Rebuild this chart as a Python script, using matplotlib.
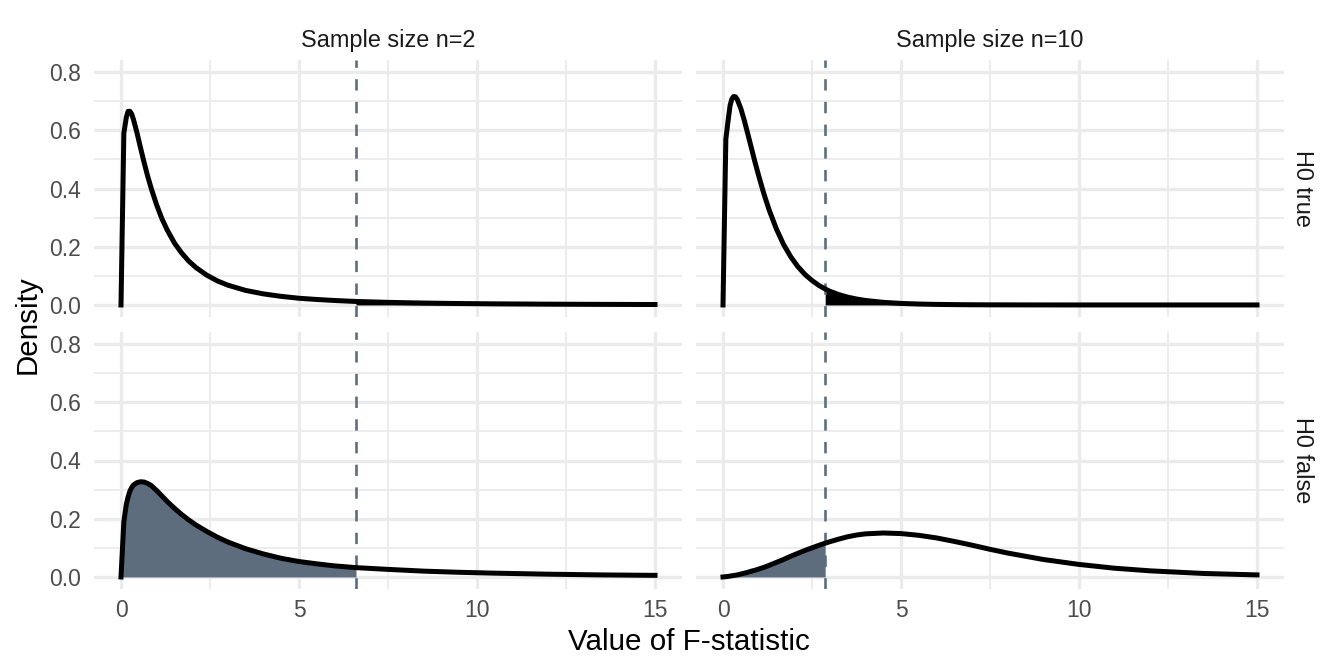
import matplotlib.pyplot as plt
import numpy as np

plt.rcParams['font.family'] = ['Liberation Sans', 'DejaVu Sans']

# data
x_left = [0, 0.08, 0.15, 0.2, 0.25, 0.3, 0.35, 0.45, 0.55, 0.65, 0.75, 0.85, 1.0, 1.15,
          1.3, 1.5, 1.7, 1.9, 2.1, 2.4, 2.7, 3.0, 3.5, 4.0, 4.5, 5.0, 5.5, 6.0, 6.6, 7.5,
          8.5, 9.5, 10.5, 12.0, 13.5, 15.0]
dens_n2_h0true = [0, 0.59, 0.645, 0.665, 0.665, 0.656, 0.637, 0.591, 0.539, 0.489, 0.442,
                  0.400, 0.344, 0.296, 0.257, 0.213, 0.179, 0.151, 0.129, 0.103, 0.083,
                  0.068, 0.050, 0.038, 0.0295, 0.023, 0.0188, 0.0153, 0.012, 0.0089,
                  0.0065, 0.0049, 0.0038, 0.0027, 0.002, 0.0015]
dens_n2_h0false = [0, 0.19, 0.25, 0.275, 0.295, 0.307, 0.316, 0.324, 0.327, 0.326, 0.321,
                   0.314, 0.297, 0.278, 0.259, 0.236, 0.215, 0.196, 0.179, 0.157, 0.137,
                   0.12, 0.097, 0.079, 0.064, 0.053, 0.045, 0.038, 0.032, 0.026, 0.02,
                   0.016, 0.013, 0.0095, 0.007, 0.0055]

x_right = [0, 0.08, 0.15, 0.2, 0.25, 0.3, 0.35, 0.4, 0.5, 0.6, 0.7, 0.8, 0.9, 1.0, 1.15,
           1.3, 1.5, 1.7, 1.9, 2.1, 2.3, 2.5, 2.7, 2.87, 3.0, 3.25, 3.5, 3.75, 4.0, 4.5,
           5.0, 5.5, 6.0, 6.5, 7.0, 7.5, 8.0, 9.0, 10.0, 11.0, 12.0, 13.5, 15.0]
dens_n10_h0true = [0, 0.57, 0.64, 0.686, 0.708, 0.716, 0.715, 0.706, 0.675, 0.633, 0.586,
                   0.538, 0.490, 0.445, 0.381, 0.325, 0.261, 0.208, 0.166, 0.132, 0.105,
                   0.084, 0.0665, 0.055, 0.047, 0.0356, 0.0269, 0.0204, 0.0155, 0.009,
                   0.0053, 0.0032, 0.0019, 0.0012, 0.0007, 0.0004, 0.0003, 0.0001, 0, 0,
                   0, 0, 0]
dens_n10_h0false = [0, 0.001, 0.002, 0.003, 0.004, 0.005, 0.006, 0.007, 0.01, 0.013, 0.016,
                    0.02, 0.023, 0.027, 0.033, 0.04, 0.05, 0.06, 0.071, 0.081, 0.091, 0.1,
                    0.109, 0.116, 0.121, 0.13, 0.138, 0.144, 0.148, 0.151, 0.149, 0.143,
                    0.134, 0.122, 0.109, 0.095, 0.082, 0.06, 0.043, 0.03, 0.021, 0.012,
                    0.007]

f_crit = [6.6, 2.87]
col_titles = ["Sample size n=2", "Sample size n=10"]
row_titles = ["H0 true", "H0 false"]

slate = '#5d6d7e'
grid_c = '#ebebeb'
W, H = 1344, 672

fig = plt.figure(figsize=(W / 100, H / 100), dpi=100)

# panel boxes in pixels
lefts = [94.3, 696.3]
rights = [681.7, 1283.7]
tops = [60.4, 332.4]
bottoms = [316.6, 588.6]

panels = {
    (0, 0): (x_left, dens_n2_h0true),
    (1, 0): (x_left, dens_n2_h0false),
    (0, 1): (x_right, dens_n10_h0true),
    (1, 1): (x_right, dens_n10_h0false),
}

for (r, c), (xs, ys) in panels.items():
    ax = fig.add_axes([lefts[c] / W, 1 - bottoms[r] / H,
                       (rights[c] - lefts[c]) / W, (bottoms[r] - tops[r]) / H])
    xs = np.array(xs)
    ys = np.array(ys)
    crit = f_crit[c]

    # shading: reject region under H0 (black), miss region under H1 (slate)
    if r == 0:
        ax.fill_between(xs, 0, ys, where=xs >= crit, color='black', lw=0)
    else:
        ax.fill_between(xs, 0, ys, where=xs <= crit, color=slate, lw=0)

    ax.axvline(crit, color=slate, lw=1.9, ls=(0, (4.3, 4.3)), zorder=3)
    ax.plot(xs, ys, color='black', lw=3.6, solid_joinstyle='round', zorder=4)

    ax.set_xlim(-0.75, 15.75)
    ax.set_ylim(-0.04, 0.84)
    ax.set_xticks([0, 5, 10, 15])
    ax.set_xticks([2.5, 7.5, 12.5], minor=True)
    ax.set_yticks([0, 0.2, 0.4, 0.6, 0.8])
    ax.set_yticks([0.1, 0.3, 0.5, 0.7], minor=True)
    ax.set_yticklabels(["0.0", "0.2", "0.4", "0.6", "0.8"])
    ax.grid(which='major', color=grid_c, lw=2.4)
    ax.grid(which='minor', color=grid_c, lw=1.3)
    ax.set_axisbelow(True)
    for s in ax.spines.values():
        s.set_visible(False)
    ax.tick_params(which='both', length=0, labelsize=16.5, labelcolor='#4d4d4d')
    ax.tick_params(axis='y', pad=9.9)
    ax.tick_params(axis='x', pad=7.5)
    if c == 1:
        ax.tick_params(axis='y', labelleft=False)
    if r == 0:
        ax.tick_params(axis='x', labelbottom=False)

# strip labels
for c in range(2):
    fig.text((lefts[c] + rights[c]) / 2 / W, 1 - 40 / H, col_titles[c],
             ha='center', va='center', fontsize=16.9, color='#1a1a1a')
for r in range(2):
    fig.text(1303 / W, 1 - (tops[r] + bottoms[r]) / 2 / H, row_titles[r],
             ha='center', va='center', rotation=-90, fontsize=16.9, color='#1a1a1a')

# axis titles
fig.text(689 / W, 1 - 642 / H, "Value of F-statistic", ha='center', va='center', fontsize=21.3)
fig.text(28 / W, 1 - 324.5 / H, "Density", ha='center', va='center', rotation=90, fontsize=21.3)

fig.savefig("out.png", dpi=100)
